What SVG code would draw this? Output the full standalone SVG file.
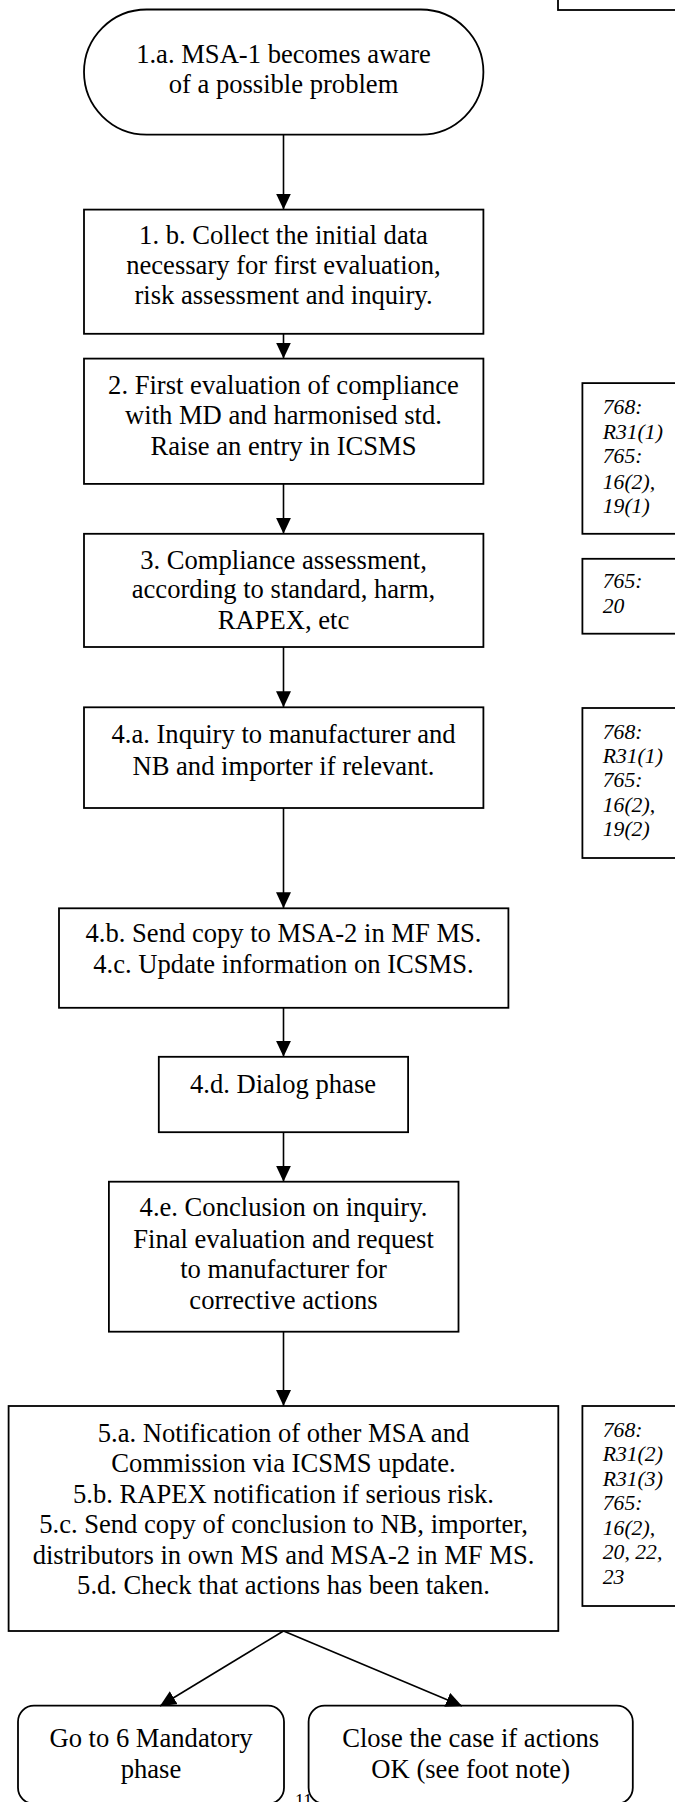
<svg xmlns="http://www.w3.org/2000/svg" width="675" height="1802" viewBox="0 0 675 1802">
<style>
.box{fill:#fff;stroke:#000;stroke-width:1.8}
.t{font-family:"Liberation Serif","Times New Roman",serif;font-size:26.6px;fill:#000;text-anchor:middle}
.n{font-family:"Liberation Serif","Times New Roman",serif;font-size:21.7px;font-style:italic;fill:#000}
.c{fill:none;stroke:#000;stroke-width:1.6}
</style>
<defs>
<marker id="ah" markerUnits="userSpaceOnUse" markerWidth="16" markerHeight="15" refX="16" refY="7.5" orient="auto">
<path d="M0,0 L16,7.5 L0,15 z" fill="#000"/>
</marker>
</defs>
<rect width="675" height="1802" fill="#fff"/>
<text x="295" y="1807" style="font-family:'Liberation Serif',serif;font-size:18px">11</text>
<g id="topbox"><rect class="box" x="558" y="-10" width="130" height="20"/></g>
<g id="n1a"><rect class="box" x="84" y="9.5" width="399.4" height="125.2" rx="62.6" ry="62.6"/>
<text class="t" x="283.5" y="63.3">1.a. MSA-1 becomes aware</text>
<text class="t" x="283.5" y="92.5">of a possible problem</text></g>
<g id="n1b"><rect class="box" x="84" y="209.6" width="399.4" height="124.2"/>
<text class="t" x="283.5" y="244">1. b. Collect the initial data</text>
<text class="t" x="283.5" y="274.2">necessary for first evaluation,</text>
<text class="t" x="283.5" y="304.3">risk assessment and inquiry.</text></g>
<g id="n2"><rect class="box" x="84" y="358.6" width="399.4" height="125.3"/>
<text class="t" x="283.5" y="393.9">2. First evaluation of compliance</text>
<text class="t" x="283.5" y="424">with MD and harmonised std.</text>
<text class="t" x="283.5" y="455">Raise an entry in ICSMS</text></g>
<g id="note1"><rect class="box" x="582.4" y="383.1" width="120" height="150.7"/>
<text class="n" x="602.7" y="414">768:</text>
<text class="n" x="602.7" y="439">R31(1)</text>
<text class="n" x="602.7" y="462.8">765:</text>
<text class="n" x="602.7" y="488.6">16(2),</text>
<text class="n" x="602.7" y="513">19(1)</text></g>
<g id="n3"><rect class="box" x="84" y="533.8" width="399.4" height="113.2"/>
<text class="t" x="283.5" y="569">3. Compliance assessment,</text>
<text class="t" x="283.5" y="598.4">according to standard, harm,</text>
<text class="t" x="283.5" y="628.5">RAPEX, etc</text></g>
<g id="note2"><rect class="box" x="582.4" y="558.8" width="120" height="74.9"/>
<text class="n" x="602.7" y="587.6">765:</text>
<text class="n" x="602.7" y="612.6">20</text></g>
<g id="n4a"><rect class="box" x="84" y="707.3" width="399.4" height="100.7"/>
<text class="t" x="283.5" y="743">4.a. Inquiry to manufacturer and</text>
<text class="t" x="283.5" y="774.8">NB and importer if relevant.</text></g>
<g id="note3"><rect class="box" x="582.4" y="708" width="120" height="150"/>
<text class="n" x="602.7" y="738.7">768:</text>
<text class="n" x="602.7" y="763.2">R31(1)</text>
<text class="n" x="602.7" y="786.5">765:</text>
<text class="n" x="602.7" y="811.9">16(2),</text>
<text class="n" x="602.7" y="836.4">19(2)</text></g>
<g id="n4b"><rect class="box" x="59" y="908.3" width="449.4" height="99.5"/>
<text class="t" x="283.5" y="941.9">4.b. Send copy to MSA-2 in MF MS.</text>
<text class="t" x="283.5" y="972.9">4.c. Update information on ICSMS.</text></g>
<g id="n4d"><rect class="box" x="158.8" y="1056.8" width="249.3" height="75.4"/>
<text class="t" x="283" y="1092.6">4.d. Dialog phase</text></g>
<g id="n4e"><rect class="box" x="108.9" y="1181.7" width="349.6" height="150"/>
<text class="t" x="283.5" y="1216">4.e. Conclusion on inquiry.</text>
<text class="t" x="283.5" y="1247.5">Final evaluation and request</text>
<text class="t" x="283.5" y="1277.7">to manufacturer for</text>
<text class="t" x="283.5" y="1308.6">corrective actions</text></g>
<g id="n5"><rect class="box" x="8.6" y="1406" width="549.7" height="225"/>
<text class="t" x="283.5" y="1441.7">5.a. Notification of other MSA and</text>
<text class="t" x="283.5" y="1472.2">Commission via ICSMS update.</text>
<text class="t" x="283.5" y="1502.7">5.b. RAPEX notification if serious risk.</text>
<text class="t" x="283.5" y="1533.2">5.c. Send copy of conclusion to NB, importer,</text>
<text class="t" x="283.5" y="1563.7">distributors in own MS and MSA-2 in MF MS.</text>
<text class="t" x="283.5" y="1594.2">5.d. Check that actions has been taken.</text></g>
<g id="note4"><rect class="box" x="582.4" y="1406" width="120" height="200"/>
<text class="n" x="602.7" y="1436.7">768:</text>
<text class="n" x="602.7" y="1461.2">R31(2)</text>
<text class="n" x="602.7" y="1485.7">R31(3)</text>
<text class="n" x="602.7" y="1510.2">765:</text>
<text class="n" x="602.7" y="1534.7">16(2),</text>
<text class="n" x="602.7" y="1559.2">20, 22,</text>
<text class="n" x="602.7" y="1583.7">23</text></g>
<g id="n6a"><rect class="box" x="18" y="1705.7" width="266" height="98" rx="16" ry="16"/>
<text class="t" x="151" y="1746.7">Go to 6 Mandatory</text>
<text class="t" x="151" y="1777.7">phase</text></g>
<g id="n6b"><rect class="box" x="308.6" y="1705.7" width="324.2" height="98" rx="16" ry="16"/>
<text class="t" x="470.7" y="1746.7">Close the case if actions</text>
<text class="t" x="470.7" y="1777.7">OK (see foot note)</text></g>
<g id="connectors">
<line class="c" x1="283.5" y1="134.7" x2="283.5" y2="209.6" marker-end="url(#ah)"/>
<line class="c" x1="283.5" y1="333.8" x2="283.5" y2="358.6" marker-end="url(#ah)"/>
<line class="c" x1="283.5" y1="483.9" x2="283.5" y2="533.8" marker-end="url(#ah)"/>
<line class="c" x1="283.5" y1="647" x2="283.5" y2="707.3" marker-end="url(#ah)"/>
<line class="c" x1="283.5" y1="808" x2="283.5" y2="908.3" marker-end="url(#ah)"/>
<line class="c" x1="283.5" y1="1007.8" x2="283.5" y2="1056.8" marker-end="url(#ah)"/>
<line class="c" x1="283.5" y1="1132.2" x2="283.5" y2="1181.7" marker-end="url(#ah)"/>
<line class="c" x1="283.5" y1="1331.7" x2="283.5" y2="1406" marker-end="url(#ah)"/>
<line class="c" x1="283.5" y1="1631" x2="160" y2="1706" marker-end="url(#ah)"/>
<line class="c" x1="283.5" y1="1631" x2="462" y2="1706" marker-end="url(#ah)"/>
</g>
</svg>
